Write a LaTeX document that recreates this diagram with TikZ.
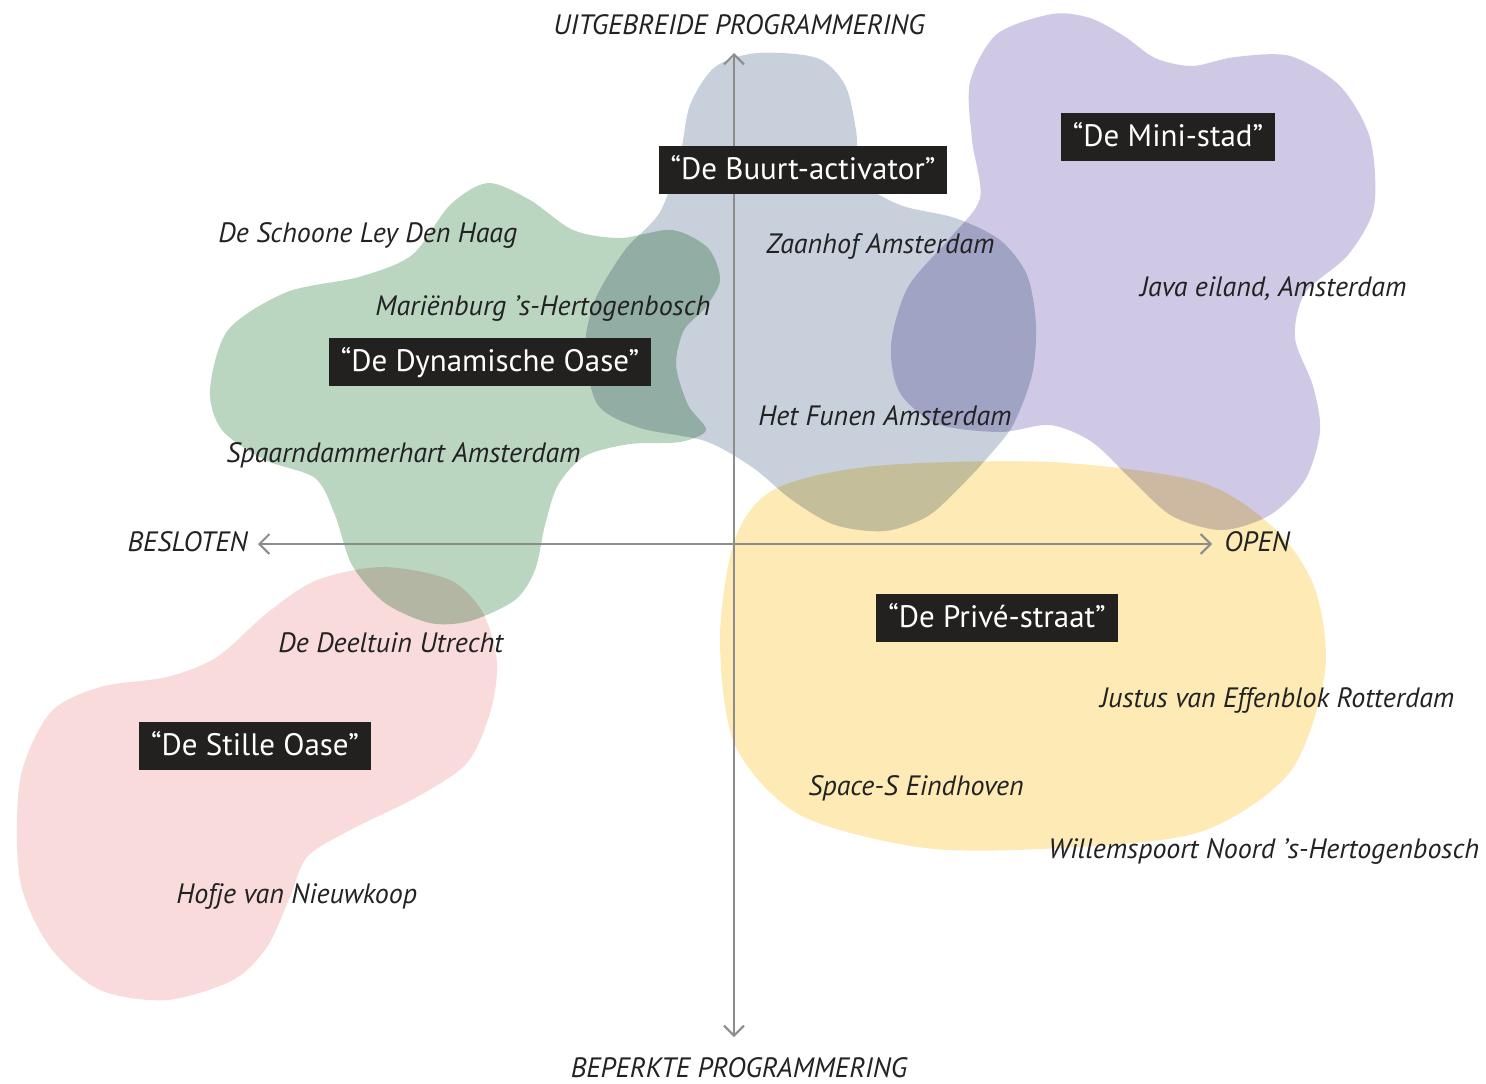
\documentclass[tikz,border=0pt]{standalone}
\usepackage{fontspec}
\setmainfont{PT Sans}
\usetikzlibrary{arrows.meta}
\definecolor{bluegray}{RGB}{199,208,219}
\definecolor{oasegreen}{RGB}{186,213,192}
\definecolor{oasepink}{RGB}{248,219,218}
\definecolor{privyellow}{RGB}{253,234,181}
\definecolor{stadpurple}{RGB}{207,201,229}
\definecolor{tagblack}{RGB}{35,33,32}
\definecolor{axisgray}{RGB}{140,140,140}
\definecolor{labelgray}{RGB}{34,34,34}

\begin{document}
\begin{tikzpicture}[
    x=0.5pt, y=-0.5pt,
    every node/.style={font=\fontsize{14}{16}\selectfont\itshape, text=labelgray},
    blob/.style={draw=none, blend mode=multiply},
    tag/.style={fill=tagblack, text=white, font=\fontsize{15.5}{18}\selectfont,
        inner xsep=6pt, inner ysep=0pt, minimum height=24pt,
        text height=11pt, text depth=2pt},
    site/.style={anchor=base west, inner sep=0pt},
    axlabel/.style={inner sep=0pt},
    axis/.style={draw=axisgray, line width=1pt,
        >={Straight Barb[length=5pt,width=10pt]}, <->},
]
\useasboundingbox (0,0) rectangle (1486,1083);

% ====== BLOBS ======
% Buurt-activator
\fill[bluegray, blob] plot[smooth cycle] coordinates {
    (757,53) (817,58) (845,85) (856,130) (862,180) (900,205) (955,218)
    (1000,240) (1027,275) (1036,325) (1032,375) (1013,425) (988,457)
    (962,485) (928,516) (885,531) (835,525) (792,500) (752,467) (705,441)
    (640,428) (598,405) (585,350) (595,300) (625,250) (660,212)
    (680,155) (690,105) (715,67)};
% Mini-stad
\fill[stadpurple, blob] plot[smooth cycle] coordinates {
    (1052,14) (1090,18) (1124,36) (1155,58) (1192,66) (1235,57) (1290,56)
    (1340,86) (1370,138) (1374,207) (1348,255) (1305,293) (1295,338)
    (1313,386) (1320,431) (1305,480) (1270,515) (1222,530) (1172,516)
    (1132,480) (1092,442) (1050,425) (1000,432) (938,424) (900,393)
    (891,345) (908,287) (950,238) (980,198) (972,140) (970,82) (997,34)};
% Dynamische Oase
\fill[oasegreen, blob] plot[smooth cycle] coordinates {
    (488,183) (530,200) (573,230) (620,238) (672,230) (708,248) (720,280)
    (705,308) (684,330) (676,365) (688,405) (706,430) (680,442) (630,444)
    (585,456) (558,485) (545,525) (535,570) (515,600) (470,621) (430,623)
    (385,603) (352,565) (335,515) (315,478) (265,460) (222,430) (210,390)
    (228,330) (287,292) (359,277) (412,255) (450,205)};
% Stille Oase
\fill[oasepink, blob] plot[smooth cycle] coordinates {
    (383,567) (450,580) (483,613) (497,663) (490,713) (467,763) (417,797)
    (350,830) (307,857) (290,897) (267,947) (233,980) (167,1000) (100,990)
    (50,947) (20,880) (20,780) (50,713) (100,687) (167,677) (217,657)
    (267,613) (317,580)};
% Prive-straat
\fill[privyellow, blob] plot[smooth cycle] coordinates {
    (1050,462) (1200,482) (1275,529) (1315,589) (1325,672) (1290,772)
    (1200,832) (1060,848) (925,848) (800,815) (735,745) (720,639)
    (735,539) (775,489) (875,466)};

% ====== AXES ======
\coordinate (ax-n) at (734,53);
\coordinate (ax-s) at (734,1037);
\coordinate (ax-w) at (258,544);
\coordinate (ax-e) at (1212,544);
\draw[axis] (ax-s) -- (ax-n);
\draw[axis] (ax-w) -- (ax-e);

\node[axlabel] (lbl-up)    at (739,25)    {UITGEBREIDE PROGRAMMERING};
\node[axlabel] (lbl-down)  at (739,1068)  {BEPERKTE PROGRAMMERING};
\node[axlabel, anchor=east] (lbl-closed) at (248,542) {BESLOTEN};
\node[axlabel, anchor=west] (lbl-open)   at (1224,542) {OPEN};

% ====== TYPES ======
\node[tag] (t-buurt)  at (803,170) {“De Buurt-activator”};
\node[tag] (t-mini)   at (1168,137) {“De Mini-stad”};
\node[tag] (t-dyn)    at (490,362) {“De Dynamische Oase”};
\node[tag] (t-stille) at (255,746) {“De Stille Oase”};
\node[tag] (t-prive)  at (997,618) {“De Privé-straat”};

% ====== PROJECTS ======
\node[site] (s-schoone) at (218,242)  {De Schoone Ley Den Haag};
\node[site] (s-marien)  at (375,315)  {Mariënburg ’s-Hertogenbosch};
\node[site] (s-spaarn)  at (226,462)  {Spaarndammerhart Amsterdam};
\node[site] (s-zaanhof) at (766,253)  {Zaanhof Amsterdam};
\node[site] (s-funen)   at (758,425)  {Het Funen Amsterdam};
\node[site] (s-java)    at (1140,296) {Java eiland, Amsterdam};
\node[site] (s-deel)    at (278,652)  {De Deeltuin Utrecht};
\node[site] (s-hofje)   at (176,903)  {Hofje van Nieuwkoop};
\node[site] (s-justus)  at (1100,707) {Justus van Effenblok Rotterdam};
\node[site] (s-space)   at (808,795)  {Space-S Eindhoven};
\node[site] (s-willem)  at (1048,858) {Willemspoort Noord ’s-Hertogenbosch};

\end{tikzpicture}
\end{document}
